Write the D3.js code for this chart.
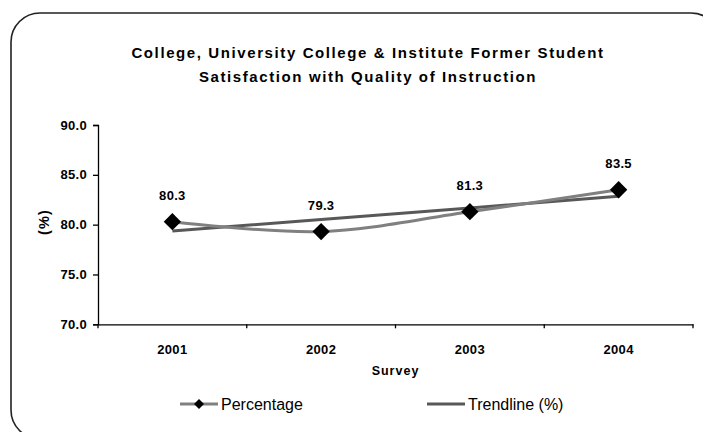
<!DOCTYPE html>
<html>
<head>
<meta charset="utf-8">
<script src="https://cdnjs.cloudflare.com/ajax/libs/d3/7.8.5/d3.min.js"></script>
<style>
  body { margin: 0; background: #fff; }
  svg { display: block; font-family: "Liberation Sans", Arial, sans-serif; }
</style>
</head>
<body>
<svg id="chart"></svg>
<script>
// data
const surveys = ["2001", "2002", "2003", "2004"]
const percentage = [80.3, 79.3, 81.3, 83.5]
const trendline = [79.36, 80.52, 81.68, 82.84]
const yTicks = [70, 75, 80, 85, 90]

const WIDTH = 703, HEIGHT = 432
const MARGIN = { left: 98, right: 10, top: 125, bottom: 108 }
const PCT_COLOR = "#808080"
const TREND_COLOR = "#585858"

const svg = d3.select("#chart").attr("width", WIDTH).attr("height", HEIGHT)

// frame
svg.append("rect")
  .attr("x", 11).attr("y", 13)
  .attr("width", 709).attr("height", 426)
  .attr("rx", 29).attr("ry", 29)
  .attr("fill", "#fff")
  .attr("stroke", "#222")
  .attr("stroke-width", 1.6)

// title
svg.append("text")
  .attr("text-anchor", "middle")
  .attr("font-size", 15).attr("font-weight", "bold")
  .attr("letter-spacing", 1.6)
  .selectAll("tspan")
  .data(["College, University College & Institute Former Student", "Satisfaction with Quality of Instruction"])
  .join("tspan")
    .attr("x", 368)
    .attr("y", (d, i) => 58 + i * 24)
    .text(d => d)

const x = d3.scaleBand()
  .domain(surveys)
  .range([MARGIN.left, 693])
  .padding(0)

const y = d3.scaleLinear()
  .domain([70, 90])
  .range([324.3, MARGIN.top])

// y axis
const yAxis = svg.append("g")
  .attr("transform", `translate(${MARGIN.left},0)`)
  .call(d3.axisLeft(y).tickValues(yTicks).tickFormat(d3.format(".1f")).tickSize(5).tickPadding(6))
yAxis.select(".domain").attr("stroke", "#000").attr("stroke-width", 1.3)
yAxis.selectAll(".tick line").attr("stroke", "#000").attr("stroke-width", 1.3)
yAxis.selectAll(".tick text")
  .attr("font-size", 13).attr("font-weight", "bold")
  .attr("font-family", "Liberation Sans, Arial, sans-serif")
  .attr("letter-spacing", 0.3)
  .attr("fill", "#000")

// x axis: labels in band centres, ticks at band edges
const xAxis = svg.append("g")
  .attr("transform", `translate(0,${y(70)})`)
  .call(d3.axisBottom(x).tickSize(0).tickPadding(20))
xAxis.select(".domain").attr("stroke", "#000").attr("stroke-width", 1.3)
xAxis.selectAll(".tick text")
  .attr("font-size", 13).attr("font-weight", "bold")
  .attr("font-family", "Liberation Sans, Arial, sans-serif")
  .attr("letter-spacing", 0.3)
  .attr("fill", "#000")
xAxis.selectAll(".edge")
  .data(surveys.map(s => x(s)).concat([x.range()[1]]))
  .join("line")
    .attr("class", "edge")
    .attr("x1", d => d).attr("x2", d => d)
    .attr("y1", 0).attr("y2", 4)
    .attr("stroke", "#000").attr("stroke-width", 1.3)

// axis titles
svg.append("text")
  .attr("x", (MARGIN.left + 693) / 2).attr("y", 375)
  .attr("text-anchor", "middle")
  .attr("font-size", 12.5).attr("font-weight", "bold")
  .attr("letter-spacing", 1)
  .text("Survey")

svg.append("text")
  .attr("transform", "translate(49,222) rotate(-90)")
  .attr("text-anchor", "middle")
  .attr("font-size", 14.5).attr("font-weight", "bold")
  .attr("letter-spacing", 1.2)
  .text("(%)")

const cx = i => x(surveys[i]) + x.bandwidth() / 2

// trendline
svg.append("path")
  .datum(trendline)
  .attr("fill", "none")
  .attr("stroke", TREND_COLOR)
  .attr("stroke-width", 3)
  .attr("d", d3.line().x((d, i) => cx(i)).y(d => y(d)))

// percentage line (smoothed)
svg.append("path")
  .datum(percentage)
  .attr("fill", "none")
  .attr("stroke", PCT_COLOR)
  .attr("stroke-width", 3)
  .attr("d", d3.line().x((d, i) => cx(i)).y(d => y(d)).curve(d3.curveCardinal.tension(0)))

// markers
const diamond = d3.symbol(d3.symbolSquare, 150)
svg.selectAll(".marker")
  .data(percentage)
  .join("path")
    .attr("class", "marker")
    .attr("d", diamond)
    .attr("transform", (d, i) => `translate(${cx(i)},${y(d)}) rotate(45)`)
    .attr("fill", "#000")

// data labels
svg.selectAll(".label")
  .data(percentage)
  .join("text")
    .attr("class", "label")
    .attr("x", (d, i) => cx(i))
    .attr("y", d => y(d) - 22)
    .attr("text-anchor", "middle")
    .attr("font-size", 13).attr("font-weight", "bold")
    .attr("letter-spacing", 0.3)
    .text(d => d.toFixed(1))

// legend
const legend = [
  { name: "Percentage", color: PCT_COLOR, x: 180, marker: true },
  { name: "Trendline (%)", color: TREND_COLOR, x: 427, marker: false }
]
const lg = svg.selectAll(".legend")
  .data(legend)
  .join("g")
    .attr("class", "legend")
    .attr("transform", d => `translate(${d.x},404)`)
lg.append("line")
  .attr("x1", 0).attr("x2", 38)
  .attr("stroke", d => d.color).attr("stroke-width", 3)
lg.filter(d => d.marker).append("path")
  .attr("d", d3.symbol(d3.symbolSquare, 50))
  .attr("transform", "translate(19,0) rotate(45)")
  .attr("fill", "#000")
lg.append("text")
  .attr("x", 41).attr("y", 5.5)
  .attr("font-size", 16)
  .text(d => d.name)
</script>
</body>
</html>
